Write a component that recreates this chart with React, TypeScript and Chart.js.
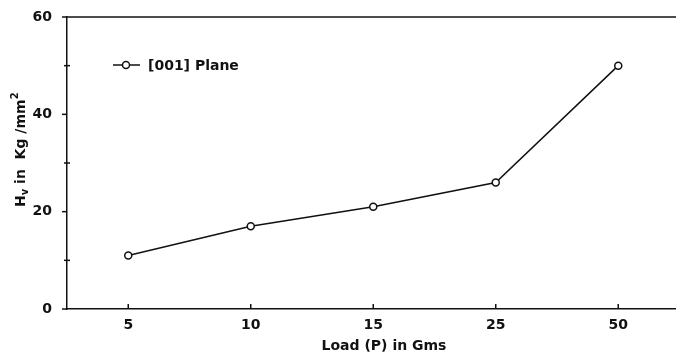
import { useEffect, useRef } from 'react';
import { Chart, registerables } from 'chart.js';

Chart.register(...registerables);

const loads = ['5', '10', '15', '25', '50'];
const hardness = [11, 17, 21, 26, 50];
const yLabelledTicks = [0, 20, 40, 60];
const seriesLabel = '[001] Plane';
const xTitle = 'Load (P) in Gms';
const yTitleParts = [
  { text: 'H', kind: 'normal' },
  { text: 'v', kind: 'sub' },
  { text: ' in  Kg /mm', kind: 'normal' },
  { text: '2', kind: 'sup' },
];

const INK = '#111';
const FONT = '"DejaVu Sans", sans-serif';
const W = 685;
const H = 354;

const decorPlugin = {
  id: 'decor',
  afterDraw(chart: any) {
    const { ctx, chartArea, scales } = chart;
    const { left, top, right, bottom } = chartArea;
    const xs = scales.x;
    const ys = scales.y;
    ctx.save();
    ctx.strokeStyle = INK;
    ctx.fillStyle = INK;
    ctx.lineWidth = 1.5;
    // top frame line
    ctx.beginPath();
    ctx.moveTo(left, top);
    ctx.lineTo(right, top);
    ctx.stroke();
    // y ticks
    for (let v = 0; v <= 60; v += 10) {
      const y = ys.getPixelForValue(v);
      ctx.beginPath();
      if (yLabelledTicks.includes(v)) {
        ctx.moveTo(left - 5, y);
        ctx.lineTo(left, y);
      } else {
        ctx.moveTo(left - 3, y);
        ctx.lineTo(left + 3, y);
      }
      ctx.stroke();
    }
    // x ticks (inward)
    loads.forEach((_, i) => {
      const x = xs.getPixelForValue(i);
      ctx.beginPath();
      ctx.moveTo(x, bottom);
      ctx.lineTo(x, bottom - 5);
      ctx.stroke();
    });
    // legend
    const ly = top + 48;
    ctx.beginPath();
    ctx.moveTo(left + 46, ly);
    ctx.lineTo(left + 73, ly);
    ctx.stroke();
    ctx.beginPath();
    ctx.arc(left + 59, ly, 3.5, 0, Math.PI * 2);
    ctx.fillStyle = '#fff';
    ctx.fill();
    ctx.stroke();
    ctx.fillStyle = INK;
    ctx.font = `bold 14px ${FONT}`;
    ctx.textBaseline = 'middle';
    ctx.textAlign = 'left';
    ctx.fillText(seriesLabel, left + 81, ly + 1);
    // x title
    ctx.font = `bold 14px ${FONT}`;
    ctx.textAlign = 'center';
    ctx.fillText(xTitle, 384, 346);
    // y title (rotated, with sub/superscript)
    ctx.translate(21, 207);
    ctx.rotate(-Math.PI / 2);
    ctx.textAlign = 'left';
    let x = 0;
    yTitleParts.forEach((p) => {
      if (p.kind === 'normal') {
        ctx.font = `bold 14px ${FONT}`;
        ctx.fillText(p.text, x, 0);
      } else if (p.kind === 'sub') {
        ctx.font = `bold 10px ${FONT}`;
        ctx.fillText(p.text, x, 4);
      } else {
        ctx.font = `bold 10px ${FONT}`;
        ctx.fillText(p.text, x, -6);
      }
      x += ctx.measureText(p.text).width;
    });
    ctx.restore();
  },
};

export default function App() {
  const ref = useRef<HTMLCanvasElement | null>(null);
  useEffect(() => {
    if (!ref.current) return;
    const chart = new Chart(ref.current, {
      type: 'line',
      data: {
        labels: loads,
        datasets: [
          {
            label: seriesLabel,
            data: hardness,
            borderColor: INK,
            borderWidth: 1.5,
            tension: 0,
            pointRadius: 3.5,
            pointBackgroundColor: '#fff',
            pointBorderColor: INK,
            pointBorderWidth: 1.5,
          },
        ],
      },
      options: {
        responsive: false,
        animation: false,
        devicePixelRatio: 1,
        layout: { padding: { left: 0, top: 17, right: 0, bottom: 0 } },
        plugins: { legend: { display: false }, tooltip: { enabled: false } },
        scales: {
          x: {
            type: 'category',
            offset: true,
            grid: { display: false },
            border: { display: true, color: INK, width: 1.5 },
            ticks: { color: INK, font: { family: FONT, size: 14, weight: 'bold' }, padding: 0, maxRotation: 0 },
            afterFit: (s: any) => {
              s.height = 45;
            },
          },
          y: {
            min: 0,
            max: 60,
            grid: { display: false },
            border: { display: true, color: INK, width: 1.5 },
            ticks: {
              stepSize: 10,
              color: INK,
              padding: 7,
              font: { family: FONT, size: 14, weight: 'bold' },
              callback: (v: any) => (yLabelledTicks.includes(Number(v)) ? String(v) : ''),
            },
            afterFit: (s: any) => {
              s.width = 67;
            },
          },
        },
      },
      plugins: [decorPlugin],
    });
    return () => chart.destroy();
  }, []);
  return (
    <div style={{ position: 'fixed', left: 0, top: 0, width: 676, height: H, overflow: 'hidden', background: '#fff' }}>
      <canvas ref={ref} width={W} height={H} style={{ display: 'block' }} />
    </div>
  );
}
